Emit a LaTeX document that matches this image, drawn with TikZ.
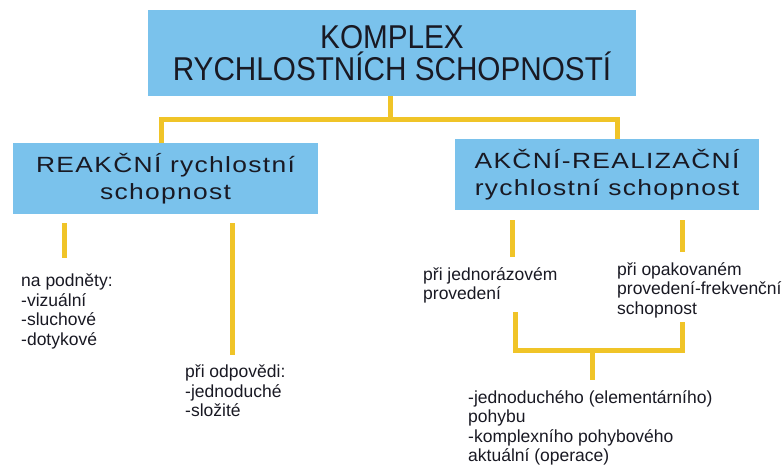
\documentclass[tikz,border=0pt]{standalone}
\usepackage{fontspec}
\setmainfont{Liberation Sans}
\newfontfamily\titlefont[FakeStretch=0.9]{Liberation Sans}
\newfontfamily\boxfont[FakeStretch=1.2,LetterSpace=6]{Liberation Sans}
\newfontfamily\notefont{Liberation Sans}

\definecolor{boxblue}{RGB}{122,194,236}
\definecolor{linkgold}{RGB}{240,196,40}
\definecolor{inkdark}{RGB}{25,25,35}

\tikzset{
  topbox/.style={fill=boxblue, inner sep=0pt, align=center, text=inkdark,
    font=\titlefont\fontsize{33}{32}\selectfont},
  subbox/.style={fill=boxblue, inner sep=0pt, align=center, text=inkdark,
    font=\boxfont\fontsize{22}{27}\selectfont},
  note/.style={inner sep=0pt, anchor=north west, align=left, text=inkdark,
    font=\notefont\fontsize{17.5}{19.5}\selectfont},
  link/.style={draw=linkgold, line width=5pt}
}

\begin{document}
\begin{tikzpicture}[x=1pt, y=-1pt]
    % Plocha obrazku.
    \fill[white] (0,0) rectangle (783,469);
    \useasboundingbox (0,0) rectangle (783,469);

    % Hlavni box a dva podrizene boxy.
    \node[topbox, minimum width=488pt, minimum height=86pt] (komplex) at (392,53)
        {KOMPLEX\\RYCHLOSTNÍCH SCHOPNOSTÍ};
    \node[subbox, minimum width=305pt, minimum height=71pt] (reakce) at (165.5,178.5)
        {REAKČNÍ rychlostní\\schopnost};
    \node[subbox, minimum width=304pt, minimum height=71pt] (akce) at (607,174.5)
        {AKČNÍ-REALIZAČNÍ\\rychlostní schopnost};

    % Texty pod boxy.
    \node[note] (podnety) at (21,274) {na podněty:\\-vizuální\\-sluchové\\-dotykové};
    \node[note] (odpoved) at (185,365) {při odpovědi:\\-jednoduché\\-složité};
    \node[note] (jednoraz) at (423,267) {při jednorázovém\\provedení};
    \node[note] (opakov) at (617,262) {při opakovaném\\provedení-frekvenční\\schopnost};
    \node[note] (pohyb) at (468,390)
        {-jednoduchého (elementárního)\\pohybu\\-komplexního pohybového\\aktuální (operace)};

    % Horni rozvetveni.
    \coordinate (tbus) at (390,119);
    \coordinate (lbus) at (161,119);
    \coordinate (rbus) at (617,119);
    \draw[link] (komplex.south -| tbus) -- (tbus);
    \draw[link] (reakce.north -| lbus) -- (lbus) -- (rbus) -- (akce.north -| rbus);

    % Svisle cary pod boxy.
    \coordinate (s1) at (64,258);
    \coordinate (s2) at (232,355);
    \coordinate (s3) at (512,257);
    \coordinate (s4) at (682,252);
    \draw[link] ([yshift=-9pt]reakce.south -| s1) -- (s1);
    \draw[link] ([yshift=-9pt]reakce.south -| s2) -- (s2);
    \draw[link] ([yshift=-10pt]akce.south -| s3) -- (s3);
    \draw[link] ([yshift=-10pt]akce.south -| s4) -- (s4);

    % Dolni spojeni k pohybu.
    \coordinate (ja) at (515,312);
    \coordinate (jb) at (682,322);
    \coordinate (jl) at (515,350);
    \coordinate (jr) at (682,350);
    \coordinate (jmid) at (592,350);
    \coordinate (jend) at (592,380);
    \draw[link] (ja) -- (jl) -- (jr) -- (jb);
    \draw[link] (jmid) -- (jend);
\end{tikzpicture}
\end{document}
